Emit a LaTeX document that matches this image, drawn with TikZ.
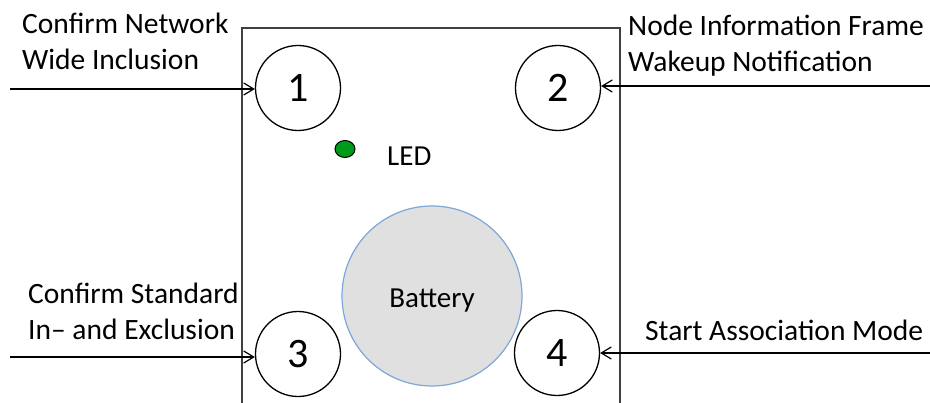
\documentclass[tikz,border=0pt]{standalone}
\usepackage{fontspec}
\setmainfont{Carlito}
\usetikzlibrary{arrows.meta,shapes.geometric}
\definecolor{battgray}{HTML}{E0E0E0}
\definecolor{battblue}{HTML}{7DA7D9}
\definecolor{ledgreen}{HTML}{009A1A}
\tikzset{
  nodo/.style    = {circle, draw, line width=1.3pt, fill=white, minimum size=85pt, inner sep=0, font=\fontsize{42}{42}\selectfont},
  batt/.style    = {circle, draw=battblue, line width=1.2pt, fill=battgray, minimum size=180pt, inner sep=0},
  led/.style     = {ellipse, draw, line width=1pt, fill=ledgreen, minimum width=20pt, minimum height=17pt, inner sep=0},
  freccia/.style = {line width=2.2pt, -{Straight Barb[length=10pt, width=12pt, line width=1.2pt]}},
  et/.style      = {font=\fontsize{29.5}{36}\selectfont, align=left, inner sep=0, anchor=base west}
}
\begin{document}
\begin{tikzpicture}[x=1pt, y=-1pt]
  \useasboundingbox (0,0) rectangle (930,403);

  % housing, open at the bottom
  \draw[line width=1.5pt, black!75] (242,403) -- (242,28) -- (620,28) -- (620,403);

  \node[nodo] (n1) at (298, 88){1};
  \node[nodo] (n2) at (558, 88){2};
  \node[nodo] (n3) at (298,354){3};
  \node[nodo] (n4) at (557,353){4};

  \node[led]  (led)  at (345,149){};
  \node[font=\fontsize{29}{29}\selectfont, inner sep=0, anchor=base west] (ledt) at (387,166) {LED};
  \node[batt] (batt) at (432,296){};
  \node[font=\fontsize{29}{29}\selectfont, inner sep=0] (battt) at (432,301) {Battery};

  % base anchor = last line
  \coordinate (a1) at (10, 89);  \draw[freccia] (a1) -- (a1 -| n1.west); \node[et] at (22, 70) {Confirm Network\\Wide Inclusion};
  \coordinate (a2) at (930,86);  \draw[freccia] (a2) -- (a2 -| n2.east); \node[et] at (628,72) {Node Information Frame\\Wakeup Notification};
  \coordinate (a3) at (10,357);  \draw[freccia] (a3) -- (a3 -| n3.west); \node[et] at (28,340) {Confirm Standard\\In– and Exclusion};
  \coordinate (a4) at (930,353); \draw[freccia] (a4) -- (a4 -| n4.east); \node[et] at (645,341) {Start Association Mode};

\end{tikzpicture}
\end{document}
